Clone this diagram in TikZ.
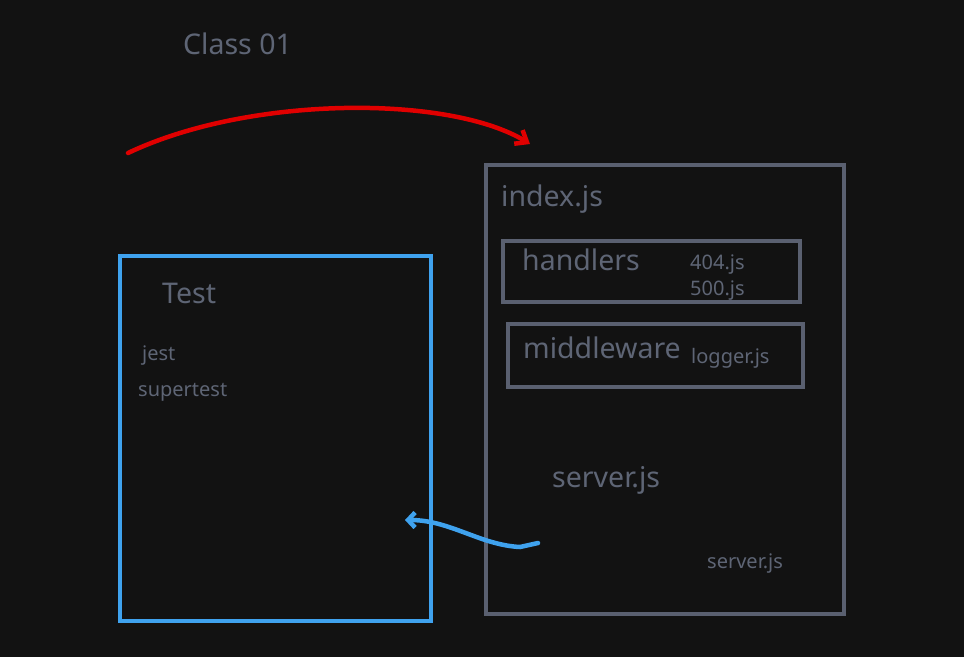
\documentclass[tikz,border=0pt]{standalone}
\usepackage{fontspec}
\setmainfont{Noto Sans}
\usetikzlibrary{arrows.meta}
\definecolor{bg}{HTML}{121212}
\definecolor{txt}{HTML}{5E6575}
\definecolor{boxgray}{HTML}{5A6070}
\definecolor{blu}{HTML}{3FA2EE}
\definecolor{rd}{HTML}{E00000}
\tikzset{
  lbl/.style={anchor=west, inner sep=0pt, text=txt},
  big/.style={lbl, font=\fontsize{28.5}{28.5}\selectfont},
  small/.style={lbl, font=\fontsize{20}{20}\selectfont},
  graybox/.style={draw=boxgray, line width=3.5pt},
}
\begin{document}
\begin{tikzpicture}[x=1pt,y=-1pt]
\fill[bg] (0,0) rectangle (964,657);
\useasboundingbox (0,0) rectangle (964,657);

% boxes
\draw[draw=blu, line width=3.5pt] (120,256) rectangle (431,621);
\draw[graybox] (486,165) rectangle (844,614);
\draw[graybox] (503,241) rectangle (800,302);
\draw[graybox] (508,324) rectangle (803,387);

% texts
\node[big] (class) at (183,44) {Class 01};
\node[big] (index) at (501,199) {index.js};
\node[big] (handlers) at (522,260) {handlers};
\node[small] (f404) at (690,265) {404.js};
\node[small] (f500) at (690,291) {500.js};
\node[big] (middleware) at (523,348) {middleware};
\node[small] (logger) at (691,358) {logger.js};
\node[big] (serverbig) at (552,480) {server.js};
\node[small] (serversmall) at (707,564) {server.js};
\node[big] (test) at (162,293) {Test};
\node[small] (jest) at (142,356) {jest};
\node[small] (supertest) at (138,392) {supertest};

% arrows
\coordinate (r1) at (128,153);
\coordinate (r2) at (530,144);
\draw[rd, line width=4.5pt, line cap=round, -{Straight Barb[length=10pt,width=16pt,line width=4.5pt]}]
  (r1) .. controls (250,95) and (450,95) .. (r2);

\coordinate (b1) at (538,543);
\coordinate (b2) at (405,520);
\draw[blu, line width=4.5pt, line cap=round, -{Straight Barb[length=7pt,width=15pt,line width=4.5pt]}]
  (b1) -- (520,547) .. controls (480,545) and (450,520) .. (b2);
\end{tikzpicture}
\end{document}
